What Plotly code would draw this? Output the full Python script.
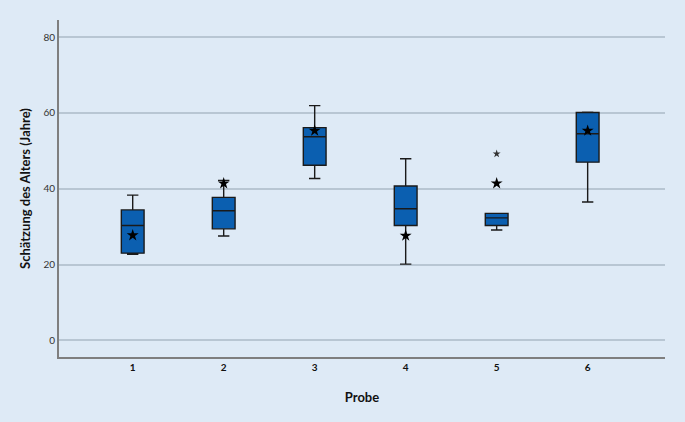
import plotly.graph_objects as go

# Box statistics (Schätzung des Alters, Jahre)
proben = [1, 2, 3, 4, 5, 6]
lower = [22.7, 27.5, 42.7, 20.1, 29.1, 36.5]
q1 = [23.0, 29.4, 46.2, 30.3, 30.3, 47.0]
median = [30.3, 34.2, 53.7, 34.7, 32.3, 54.5]
q3 = [34.4, 37.7, 56.1, 40.7, 33.5, 60.1]
upper = [38.3, 42.2, 61.9, 47.9, 33.5, 60.2]
true_age = [27.7, 41.4, 55.3, 27.6, 41.4, 55.3]  # stars
outlier_x = [5]
outlier_y = [49.2]

bg = "#DEEAF6"
fig = go.Figure()

fig.add_trace(go.Box(
    x=proben, q1=q1, median=median, q3=q3,
    lowerfence=lower, upperfence=upper,
    width=0.25, whiskerwidth=0.5,
    fillcolor="#0B5FB0",
    line=dict(color="#1a1a1a", width=1.4),
    showlegend=False, hoverinfo="skip",
))

fig.add_trace(go.Scatter(
    x=proben, y=true_age, mode="markers",
    marker=dict(symbol="star", size=9, color="black"),
    showlegend=False,
))

fig.add_trace(go.Scatter(
    x=outlier_x, y=outlier_y, mode="markers",
    marker=dict(symbol="star", size=6, color="#333333"),
    showlegend=False,
))

fig.update_layout(
    width=685, height=422,
    paper_bgcolor=bg, plot_bgcolor=bg,
    margin=dict(l=59, r=20, t=20, b=65),
    font=dict(family="Lato", color="#111111"),
    xaxis=dict(
        range=[0.19, 6.85], tickvals=proben, ticktext=[str(p) for p in proben],
        showgrid=False, zeroline=False,
        showline=True, linecolor="#7f7f7f", linewidth=2,
        tickfont=dict(size=10, weight="bold"),
        title=dict(text="Probe", font=dict(size=13, weight="bold"), standoff=21),
    ),
    yaxis=dict(
        range=[-4.4, 84.5], tickvals=[0, 20, 40, 60, 80],
        showgrid=True, gridcolor="#B8C6D3", gridwidth=1.5, zeroline=False,
        showline=True, linecolor="#7f7f7f", linewidth=2,
        tickfont=dict(size=10, color="#333333"), ticks="", ticklen=0,
        title=dict(text="Schätzung des Alters (Jahre)", font=dict(size=13, weight="bold"), standoff=10),
    ),
)

# drop the default page margin so the figure fills the window
fig.write_html("out.html", config={"displayModeBar": False},
               post_script="document.body.style.margin='0';")
